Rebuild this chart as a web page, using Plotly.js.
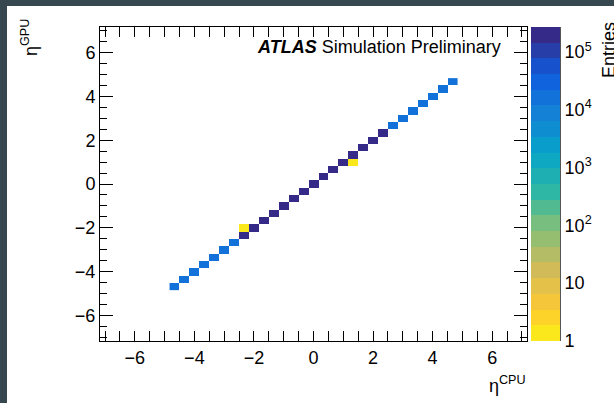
<!DOCTYPE html>
<html>
<head>
<meta charset="utf-8">
<script src="https://cdn.plot.ly/plotly-3.0.1.min.js"></script>
<style>
  html, body { margin: 0; padding: 0; background: #37474f; width: 614px; height: 403px; overflow: hidden; }
  #chart { position: absolute; left: 7px; top: 6px; width: 607px; height: 397px; background: #ffffff; }
</style>
</head>
<body>
<div id="chart"></div>
<script>
// Reconstructed pseudorapidity: CPU reference vs GPU implementation (bin centres, width 1/3)
const etaCPU = [-4.667, -4.333, -4, -3.667, -3.333, -3, -2.667, -2.333, -2, -1.667, -1.333, -1, -0.667, -0.333, 0,
                0.333, 0.667, 1, 1.333, 1.667, 2, 2.333, 2.667, 3, 3.333, 3.667, 4, 4.333, 4.667,
                -2.333, 1.333];
const etaGPU = [-4.667, -4.333, -4, -3.667, -3.333, -3, -2.667, -2.333, -2, -1.667, -1.333, -1, -0.667, -0.333, 0,
                0.333, 0.667, 1, 1.333, 1.667, 2, 2.333, 2.667, 3, 3.333, 3.667, 4, 4.333, 4.667,
                -2, 1];
const entries = [1.6e4, 1.7e4, 1.8e4, 1.8e4, 1.9e4, 1.9e4, 2.0e4, 1.9e5, 2.3e5, 2.4e5, 2.5e5, 2.6e5, 2.6e5, 2.7e5, 2.7e5,
                 2.7e5, 2.6e5, 2.6e5, 2.5e5, 2.4e5, 2.3e5, 1.9e5, 2.0e4, 1.9e4, 1.9e4, 1.8e4, 1.8e4, 1.7e4, 1.6e4,
                 1, 1];

// Colour axis (log10 of entries) and its labels
const zLogMax = 5.43;
const cbMajorVals = [0, 1, 2, 3, 4, 5];
const cbMajorText = ['1', '10', '10<sup>2</sup>', '10<sup>3</sup>', '10<sup>4</sup>', '10<sup>5</sup>'];

// ROOT "bird" palette, inverted, 20 contour levels
const birdStops = [0.0, 0.125, 0.25, 0.375, 0.5, 0.625, 0.75, 0.875, 1.0];
const birdR = [0.2082, 0.0592, 0.0780, 0.0232, 0.1802, 0.5301, 0.8186, 0.9956, 0.9764];
const birdG = [0.1664, 0.3599, 0.5041, 0.6419, 0.7178, 0.7492, 0.7328, 0.7862, 0.9832];
const birdB = [0.5293, 0.8684, 0.8385, 0.7914, 0.6425, 0.4662, 0.3499, 0.1968, 0.0539];
function bird(t) {
  let k = 0;
  while (k < birdStops.length - 2 && t > birdStops[k + 1]) k++;
  const f = (t - birdStops[k]) / (birdStops[k + 1] - birdStops[k]);
  const c = (a) => Math.round(255 * (a[k] + (a[k + 1] - a[k]) * f));
  return 'rgb(' + c(birdR) + ',' + c(birdG) + ',' + c(birdB) + ')';
}
const nLevels = 20;
const colorscale = [];
for (let i = 0; i < nLevels; i++) {
  const idx = Math.floor((i + 0.99) * 255 / nLevels);
  const col = bird(1 - Math.min(idx, 254) / 254);
  colorscale.push([i / nLevels, col]);
  colorscale.push([(i + 1) / nLevels, col]);
}

// minor ticks of the colour axis: 2..9 x 10^n
const cbMinorVals = [];
for (let d = 0; d < 6; d++) {
  for (let m = 2; m <= 9; m++) {
    const v = Math.log10(m * Math.pow(10, d));
    if (v < zLogMax) cbMinorVals.push(v);
  }
}

const font = { family: 'Liberation Sans, Arial, Helvetica, sans-serif', size: 18, color: '#000' };

const heat = {
  type: 'heatmap',
  x: etaCPU,
  y: etaGPU,
  z: entries.map(v => Math.log10(v)),
  zmin: 0,
  zmax: zLogMax,
  colorscale: colorscale,
  hoverinfo: 'skip',
  colorbar: {
    x: 0.937, xanchor: 'left', xpad: 0,
    y: 0, yanchor: 'bottom', ypad: 0,
    len: 1, lenmode: 'fraction',
    thickness: 29, thicknessmode: 'pixels',
    outlinewidth: 0,
    ticks: '', showticklabels: false
  }
};

// carrier for the colour-axis ticks
const cbAxisCarrier = { type: 'scatter', x: [], y: [], yaxis: 'y2', hoverinfo: 'skip', showlegend: false };

const axisCommon = {
  showgrid: false, zeroline: false,
  showline: true, linecolor: '#000', linewidth: 1,
  mirror: 'allticks',
  ticks: 'inside', tickcolor: '#000', tickwidth: 1,
  tickfont: font,
  tickmode: 'linear', tick0: 0, dtick: 2
};

const layout = {
  width: 607, height: 397,
  margin: { l: 93, r: 54, t: 21, b: 62 },
  paper_bgcolor: '#ffffff', plot_bgcolor: '#ffffff',
  showlegend: false,
  font: font,
  xaxis: Object.assign({}, axisCommon, {
    domain: [0, 0.92826], range: [-7.17, 7.17], ticklen: 10,
    minor: { tick0: 0, dtick: 0.5, ticks: 'inside', ticklen: 5, tickcolor: '#000', tickwidth: 1 }
  }),
  yaxis: Object.assign({}, axisCommon, {
    range: [-7.17, 7.17], ticklen: 13,
    minor: { tick0: 0, dtick: 0.5, ticks: 'inside', ticklen: 6.5, tickcolor: '#000', tickwidth: 1 }
  }),
  yaxis2: {
    overlaying: 'y', anchor: 'free', position: 1, side: 'right',
    range: [0, zLogMax], fixedrange: true,
    showgrid: false, zeroline: false,
    showline: true, linecolor: '#555', linewidth: 1,
    tickmode: 'array', tickvals: cbMajorVals, ticktext: cbMajorText,
    ticks: 'inside', ticklen: 14, tickcolor: '#000', tickwidth: 1,
    tickfont: font,
    minor: { tickmode: 'array', tickvals: cbMinorVals, ticks: 'inside', ticklen: 7, tickcolor: '#000', tickwidth: 1 }
  },
  annotations: [
    { xref: 'paper', yref: 'paper', x: 0.876, y: 0.936, xanchor: 'right', yanchor: 'middle', showarrow: false,
      text: '<b><i>ATLAS</i></b> Simulation Preliminary', font: font },
    { xref: 'paper', yref: 'paper', x: 0.9304, y: -0.14, xanchor: 'right', yanchor: 'middle', showarrow: false,
      text: 'η<sup>CPU</sup>', font: font },
    { xref: 'paper', yref: 'paper', x: -0.152, y: 0.965, xanchor: 'center', yanchor: 'middle', showarrow: false,
      textangle: -90, text: 'η<sup>GPU</sup>', font: font },
    { xref: 'paper', yref: 'paper', x: 1.1065, y: 1.022, xanchor: 'center', yanchor: 'top', showarrow: false,
      textangle: -90, text: 'Entries', font: font }
  ]
};

Plotly.newPlot('chart', [heat, cbAxisCarrier], layout, { displayModeBar: false, staticPlot: true });
</script>
</body>
</html>
